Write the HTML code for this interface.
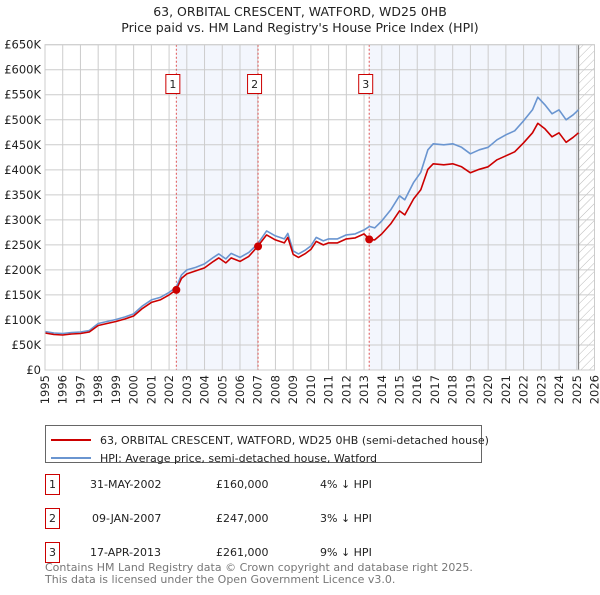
<!DOCTYPE html>
<html><head><meta charset="utf-8"><style>
body{margin:0;background:#fff;font-family:"Liberation Sans","DejaVu Sans",sans-serif;}
svg text{font-family:"DejaVu Sans","Liberation Sans",sans-serif;}
</style></head><body>
<svg id="c" width="600" height="590" xmlns="http://www.w3.org/2000/svg">
<defs><pattern id="hatch" width="6" height="6" patternUnits="userSpaceOnUse" patternTransform="rotate(45)"><line x1="0" y1="0" x2="0" y2="6" stroke="#bbb" stroke-width="1"/></pattern></defs>
<text x="300" y="16" text-anchor="middle" font-size="12.5" fill="#222">63, ORBITAL CRESCENT, WATFORD, WD25 0HB</text>
<text x="300" y="32" text-anchor="middle" font-size="12.5" fill="#222">Price paid vs. HM Land Registry's House Price Index (HPI)</text>
<g id="plot"></g>
<g>
<rect x="45.5" y="425.5" width="436" height="37" fill="#fff" stroke="#666"/>
<line x1="51" y1="440" x2="91" y2="440" stroke="#cc0000" stroke-width="2"/>
<text x="100" y="444" font-size="11" fill="#222">63, ORBITAL CRESCENT, WATFORD, WD25 0HB (semi-detached house)</text>
<line x1="51" y1="458" x2="91" y2="458" stroke="#6a95d0" stroke-width="2"/>
<text x="100" y="462" font-size="11" fill="#222">HPI: Average price, semi-detached house, Watford</text>
</g>
<g font-size="11" fill="#222">
<rect x="45.5" y="474.5" width="14" height="20" fill="#fff" stroke="#cc0000"/><text x="52.5" y="488" text-anchor="middle">1</text>
<text x="90" y="488">31-MAY-2002</text><text x="216" y="488">£160,000</text><text x="320" y="488">4% ↓ HPI</text>
<rect x="45.5" y="508.5" width="14" height="20" fill="#fff" stroke="#cc0000"/><text x="52.5" y="522" text-anchor="middle">2</text>
<text x="92" y="522">09-JAN-2007</text><text x="216" y="522">£247,000</text><text x="320" y="522">3% ↓ HPI</text>
<rect x="45.5" y="542.5" width="14" height="20" fill="#fff" stroke="#cc0000"/><text x="52.5" y="556" text-anchor="middle">3</text>
<text x="90" y="556">17-APR-2013</text><text x="216" y="556">£261,000</text><text x="320" y="556">9% ↓ HPI</text>
</g>
<text x="45" y="571" font-size="11" fill="#777">Contains HM Land Registry data © Crown copyright and database right 2025.</text>
<text x="45" y="583" font-size="11" fill="#777">This data is licensed under the Open Government Licence v3.0.</text>
</svg>
<script>
const yTicks=[0,50,100,150,200,250,300,350,400,450,500,550,600,650];
const yLabels=["£0","£50K","£100K","£150K","£200K","£250K","£300K","£350K","£400K","£450K","£500K","£550K","£600K","£650K"];
const xYears=[1995,1996,1997,1998,1999,2000,2001,2002,2003,2004,2005,2006,2007,2008,2009,2010,2011,2012,2013,2014,2015,2016,2017,2018,2019,2020,2021,2022,2023,2024,2025,2026];
const dates=[1995.0,1995.5,1996.0,1996.5,1997.0,1997.5,1998.0,1998.5,1999.0,1999.5,2000.0,2000.5,2001.0,2001.5,2002.0,2002.4,2002.7,2003.0,2003.5,2004.0,2004.5,2004.8,2005.2,2005.5,2006.0,2006.5,2007.0,2007.5,2008.0,2008.5,2008.7,2009.0,2009.3,2009.7,2010.0,2010.3,2010.7,2011.0,2011.5,2012.0,2012.5,2013.0,2013.3,2013.6,2014.0,2014.5,2015.0,2015.3,2015.8,2016.2,2016.6,2016.9,2017.5,2018.0,2018.5,2019.0,2019.5,2020.0,2020.5,2021.0,2021.5,2022.0,2022.5,2022.8,2023.2,2023.6,2024.0,2024.4,2024.8,2025.1];
const hpi=[77,74,73,75,76,79,93,97,101,106,112,128,140,145,155,165,190,200,205,212,225,232,222,233,225,235,252,278,268,262,273,238,232,240,248,265,258,262,262,270,272,280,287,284,298,320,348,340,375,395,440,452,450,452,445,432,440,445,460,470,478,498,520,545,530,512,520,500,510,520];
const paid=[74,71,70,72,73,76,89,93,97,102,108,123,135,140,150,160,183,192,198,204,217,224,214,224,217,227,247,270,260,254,265,231,225,233,241,257,250,254,254,262,264,272,261,260,272,292,318,310,342,360,401,412,410,412,406,394,401,406,420,428,436,454,474,493,482,466,474,455,465,474];
const sales=[{n:"1",d:2002.41,v:160},{n:"2",d:2007.02,v:247},{n:"3",d:2013.29,v:261}];
const X0=45,X1=594.5,Y0=370,Y1=44.7;
const xs=d=>X0+(d-1995)*(X1-X0)/31;
const ys=v=>Y0-v*(Y0-Y1)/650;
const NS="http://www.w3.org/2000/svg";
const g=document.getElementById('plot');
function mk(t,a){const e=document.createElementNS(NS,t);for(const k in a)e.setAttribute(k,a[k]);g.appendChild(e);return e;}
let e;
e=mk('rect',{x:xs(2002.41),y:Y1,width:xs(2007.02)-xs(2002.41),height:Y0-Y1,fill:'#f3f6fd'});


e=mk('rect',{x:xs(2013.29),y:Y1,width:xs(2025.1)-xs(2013.29),height:Y0-Y1,fill:'#f3f6fd'});


e=mk('rect',{x:xs(2025.1),y:Y1,width:X1-xs(2025.1),height:Y0-Y1,fill:'url(#hatch)'});


yTicks.forEach((v,i)=>{
 e=mk('line',{x1:X0,x2:X1,y1:ys(v),y2:ys(v),stroke:'#ccc'});
 
 
 e=mk('text',{x:X0-4,y:ys(v)+4,'text-anchor':'end','font-size':'11.5',fill:'#222'});e.textContent=yLabels[i];
 
 
});
xYears.forEach(yr=>{
 const x=xs(yr);
 e=mk('line',{x1:x,x2:x,y1:Y1,y2:Y0,stroke:'#ccc'});
 
 
 e=mk('text',{x:0,y:0,'text-anchor':'end','font-size':'11.5',fill:'#222',transform:`translate(${x+4},${Y0+5}) rotate(-90)`});e.textContent=yr;
 
 
});
e=mk('line',{x1:xs(2025.1),x2:xs(2025.1),y1:Y1,y2:Y0,stroke:'#888','stroke-width':1.2});


sales.forEach(s=>{
 const x=xs(s.d);
 e=mk('line',{x1:x,x2:x,y1:Y1,y2:Y0,stroke:'#e05555','stroke-dasharray':'2,2'});
 
 
});
function path(arr,color,name){
 let d=dates.map((t,i)=>(i?'L':'M')+xs(t).toFixed(1)+','+ys(arr[i]).toFixed(1)).join('');
 e=mk('path',{d:d,fill:'none',stroke:color,'stroke-width':1.6,'stroke-linejoin':'round'});
 
 
}
path(hpi,'#6a95d0','hpi-line');
path(paid,'#cc0000','property-line');
sales.forEach(s=>{
 const x=xs(s.d);
 e=mk('circle',{cx:x,cy:ys(s.v),r:4,fill:'#cc0000'});
 
 
 e=mk('rect',{x:x-10.5,y:74.5,width:14,height:19,fill:'#fff',stroke:'#cc0000'});
 
 
 e=mk('text',{x:x-3.5,y:88,'text-anchor':'middle','font-size':'11',fill:'#222'});e.textContent=s.n;
 
 
});
e=mk('rect',{x:X0,y:Y1,width:X1-X0,height:Y0-Y1,fill:'none',stroke:'#ccc'});


</script>
</body></html>
